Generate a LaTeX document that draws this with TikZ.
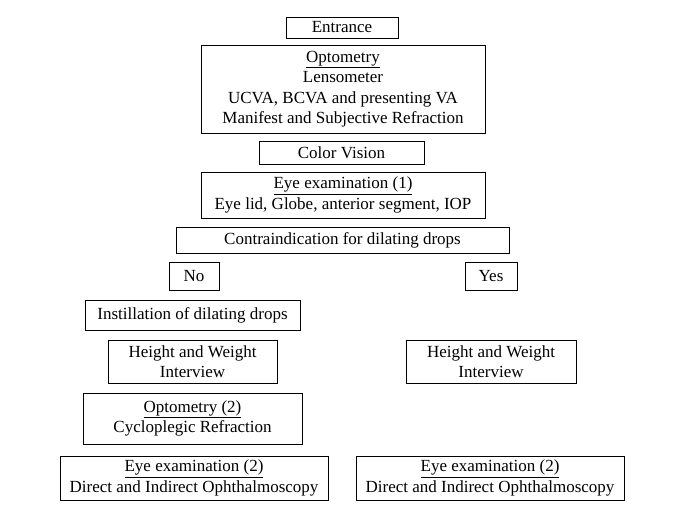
\documentclass[tikz,border=0pt]{standalone}
\usepackage{fontspec}
\setmainfont{Liberation Serif}
\usepackage{tikz}
\usetikzlibrary{positioning}

\begin{document}
\begin{tikzpicture}[x=1pt,y=-1pt,every node/.style={draw,line width=0.8pt,align=center,inner sep=0pt,font=\fontsize{17}{20.5}\selectfont}]
  \useasboundingbox (0,0) rectangle (685,513);
  \node[minimum width=112,minimum height=21] (entr) at (342,27.5) {Entrance};
  \node[minimum width=284,minimum height=88] (opt1) at (343,89) {\underline{Optometry}\\Lensometer\\UCVA, BCVA and presenting VA\\Manifest and Subjective Refraction};
  \node[minimum width=165,minimum height=23] (cv) at (341.5,152.5) {Color Vision};
  \node[minimum width=284,minimum height=46] (exam1) at (343,195) {\underline{Eye examination (1)}\\Eye lid, Globe, anterior segment, IOP};
  \node[minimum width=333,minimum height=26] (contra) at (342.5,240) {Contraindication for dilating drops};
  \node[minimum width=50,minimum height=28] (no) at (194,276) {No};
  \node[minimum width=52,minimum height=28] (yes) at (491,276) {Yes};
  % no branch
  \node[minimum width=215,minimum height=30] (drops) at (192.5,315) {Instillation of dilating drops};
  \node[minimum width=169,minimum height=43] (hw1) at (192.5,361.5) {Height and Weight\\Interview};
  \node[minimum width=219,minimum height=51] (opt2) at (192.5,418.5) {\underline{Optometry (2)}\\Cycloplegic Refraction};
  \node[minimum width=268,minimum height=44] (exam2) at (194,478) {\underline{Eye examination (2)}\\Direct and Indirect Ophthalmoscopy};
  % yes branch
  \node[minimum width=170,minimum height=43] (hw2) at (491,361.5) {Height and Weight\\Interview};
  \node[minimum width=268,minimum height=44] (exam3) at (490,478) {\underline{Eye examination (2)}\\Direct and Indirect Ophthalmoscopy};
\end{tikzpicture}
\end{document}
